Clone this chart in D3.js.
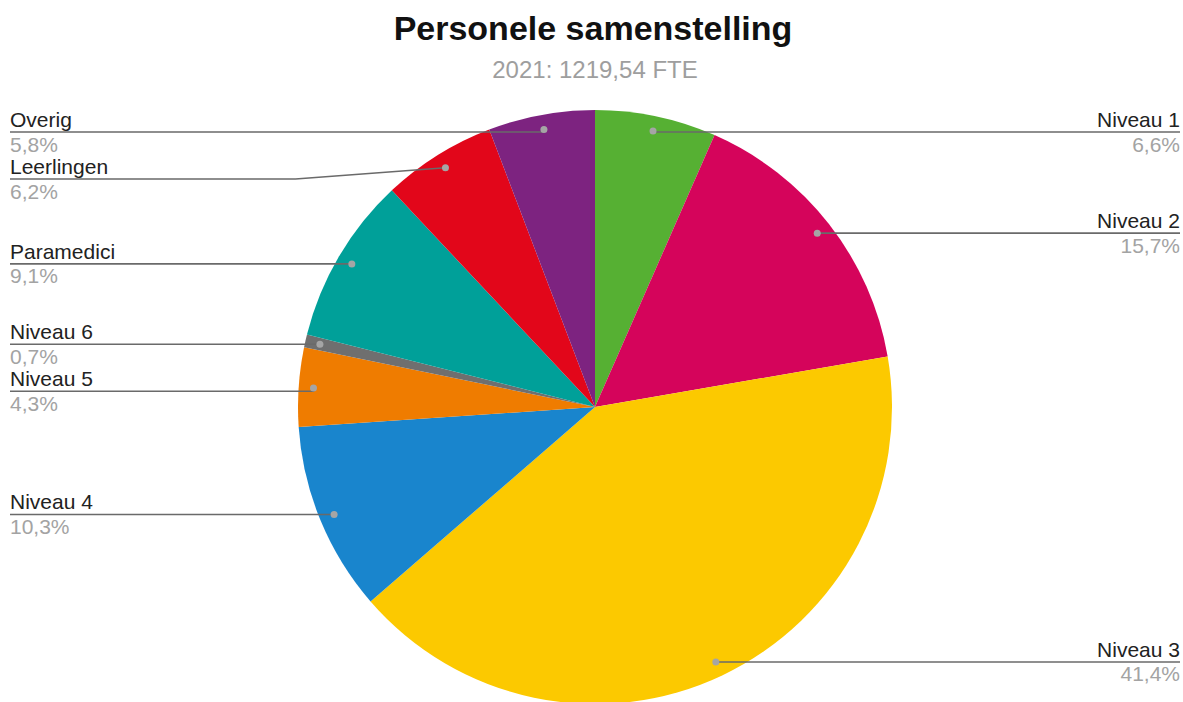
<!DOCTYPE html>
<html>
<head>
<meta charset="utf-8">
<script src="https://cdn.jsdelivr.net/npm/d3@7"></script>
<style>
  html, body { margin: 0; padding: 0; background: #fff; }
  svg { display: block; font-family: "Liberation Sans", Arial, sans-serif; }
</style>
</head>
<body>
<svg id="chart" width="1183" height="702"></svg>
<script>
// Personnel composition, 2021 (share of FTE, %)
const categories = ["Niveau 1", "Niveau 2", "Niveau 3", "Niveau 4", "Niveau 5", "Niveau 6", "Paramedici", "Leerlingen", "Overig"];
const values = [6.6, 15.7, 41.4, 10.3, 4.3, 0.7, 9.1, 6.2, 5.8];
const valueLabels = ["6,6%", "15,7%", "41,4%", "10,3%", "4,3%", "0,7%", "9,1%", "6,2%", "5,8%"];
const colors = ["#56b033", "#d5045b", "#fcc900", "#1985cd", "#ef7c00", "#6f6f6f", "#00a099", "#e2061a", "#7d2380"];
const title = "Personele samenstelling";
const subtitle = "2021: 1219,54 FTE";

const W = 1183, H = 702;
const cx = 595, cy = 407, R = 297;
const svg = d3.select("#chart");

svg.append("text")
  .attr("x", 593).attr("y", 40)
  .attr("text-anchor", "middle")
  .attr("font-size", 34).attr("font-weight", "bold").attr("fill", "#111")
  .text(title);

svg.append("text")
  .attr("x", 595).attr("y", 78)
  .attr("text-anchor", "middle")
  .attr("font-size", 24).attr("fill", "#9e9e9e")
  .text(subtitle);

const data = categories.map((c, i) => ({ name: c, value: values[i], label: valueLabels[i], color: colors[i] }));

const pie = d3.pie().value(d => d.value).sort(null);
const arcs = pie(data);
const arc = d3.arc().innerRadius(0).outerRadius(R);
const dotArc = d3.arc().innerRadius(R * 0.95).outerRadius(R * 0.95);

const g = svg.append("g").attr("transform", `translate(${cx},${cy})`);
g.selectAll("path.slice")
  .data(arcs)
  .join("path")
  .attr("class", "slice")
  .attr("d", arc)
  .attr("fill", d => d.data.color);

// Label placement: left / right columns, pushed apart to avoid overlap
const labels = arcs.map(a => {
  const [x, y] = dotArc.centroid(a);
  const mid = (a.startAngle + a.endAngle) / 2;
  return { a, dx: cx + x, dy: cy + y, side: mid < Math.PI ? "right" : "left", ly: cy + y };
});

const minGap = 47, topBound = 132;
["left", "right"].forEach(side => {
  const group = labels.filter(l => l.side === side).sort((p, q) => p.dy - q.dy);
  let prev = -Infinity;
  group.forEach(l => {
    l.ly = Math.max(l.dy, topBound, prev + minGap);
    prev = l.ly;
  });
});

const lg = svg.append("g");
labels.forEach(l => {
  const left = l.side === "left";
  const edgeX = left ? 10 : 1180;
  const shifted = Math.abs(l.ly - l.dy) > 5;
  const bendX = shifted ? (left ? l.dx - 150 : l.dx + 150) : l.dx;
  const pts = [[l.dx, l.dy], [bendX, l.ly], [edgeX, l.ly]];
  lg.append("path")
    .attr("d", d3.line()(pts))
    .attr("fill", "none")
    .attr("stroke", "#6a6a6a")
    .attr("stroke-width", 1.6);
  lg.append("circle")
    .attr("cx", l.dx).attr("cy", l.dy).attr("r", 3.5)
    .attr("fill", "#a5a5a5");
  lg.append("text")
    .attr("x", edgeX).attr("y", l.ly - 5)
    .attr("text-anchor", left ? "start" : "end")
    .attr("font-size", 21).attr("fill", "#222")
    .text(l.a.data.name);
  lg.append("text")
    .attr("x", edgeX).attr("y", l.ly + 19.5)
    .attr("text-anchor", left ? "start" : "end")
    .attr("font-size", 21).attr("fill", "#a3a3a3")
    .text(l.a.data.label);
});
</script>
</body>
</html>
